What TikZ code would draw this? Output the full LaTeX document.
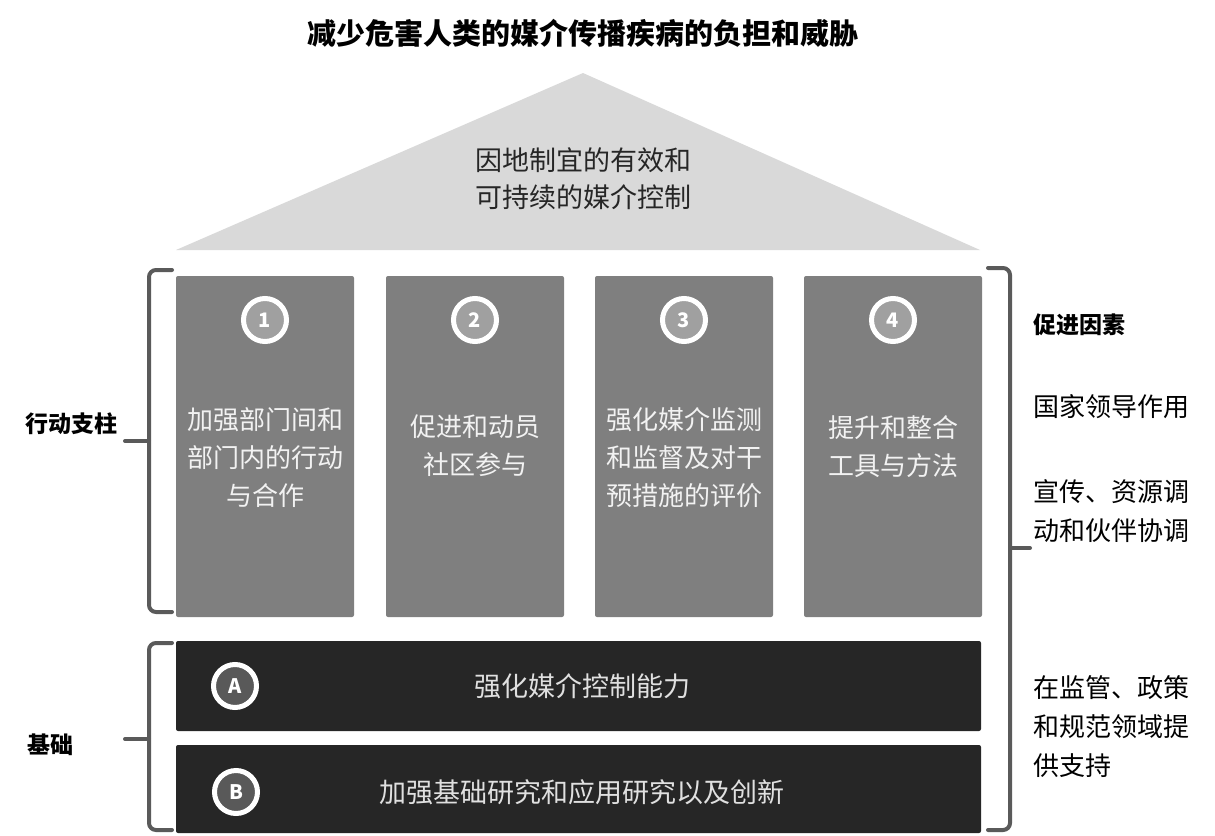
\documentclass[tikz,border=0pt]{standalone}
\usepackage{fontspec}
\setmainfont{Noto Sans CJK SC}
\newfontfamily\cjk{Noto Sans CJK SC}
\definecolor{pillar}{HTML}{7F7F7F}
\definecolor{roof}{HTML}{D9D9D9}
\definecolor{bar}{HTML}{262626}
\definecolor{brace}{HTML}{5A5A5A}
\definecolor{pcirc}{HTML}{A0A0A0}
\definecolor{bcirc}{HTML}{595959}
\definecolor{ptext}{HTML}{F2F2F2}
\definecolor{btext}{HTML}{E0E0E0}
\tikzset{
  pillarbox/.style={fill=pillar, rounded corners=2pt},
  barbox/.style={fill=bar, rounded corners=2pt},
  numcirc/.style={circle, draw=white, line width=5pt, minimum size=43pt, inner sep=0pt, text=white, font=\cjk\fontsize{20}{20}\selectfont\bfseries},
  bodytext/.style={align=center, font=\cjk\fontsize{26}{38}\selectfont},
  sidetext/.style={align=left, anchor=west, font=\cjk\fontsize{26}{39}\selectfont},
  boldlab/.style={anchor=west, font=\cjk\fontsize{23}{23}\selectfont\bfseries},
  bracepath/.style={draw=brace, line width=4pt, rounded corners=7pt, line cap=round},
}
\begin{document}
\begin{tikzpicture}[x=1pt,y=-1pt]
\useasboundingbox (0,0) rectangle (1215,835);
% title
\node[font=\cjk\fontsize{29}{29}\selectfont\bfseries] (title) at (583,33) {减少危害人类的媒介传播疾病的负担和威胁};
% roof
\fill[roof] (583,73) -- (980,250) -- (176,250) -- cycle;
\node[bodytext, text=black!85, font=\cjk\fontsize{27}{37}\selectfont] (roof) at (583,179) {因地制宜的有效和\\可持续的媒介控制};
% pillars
\foreach \i/\x in {1/176,2/386,3/595,4/804}{
  \fill[pillarbox] (\x,276) rectangle ++(178,341);
  \node[numcirc, fill=pcirc] (c\i) at (\x+89,320) {\i};
}
\node[bodytext, text=ptext] (p1) at (265,458) {加强部门间和\\部门内的行动\\与合作};
\node[bodytext, text=ptext] (p2) at (475,446) {促进和动员\\社区参与};
\node[bodytext, text=ptext] (p3) at (684,458) {强化媒介监测\\和监督及对干\\预措施的评价};
\node[bodytext, text=ptext] (p4) at (893,447) {提升和整合\\工具与方法};
% foundation bars
\fill[barbox] (176,641) rectangle (981,731);
\fill[barbox] (176,745) rectangle (981,833);
\node[numcirc, fill=bcirc] (ca) at (235,686) {A};
\node[numcirc, fill=bcirc] (cb) at (236,792) {B};
\node[bodytext, text=btext, font=\cjk\fontsize{27}{27}\selectfont] (fa) at (582,686) {强化媒介控制能力};
\node[bodytext, text=btext, font=\cjk\fontsize{27}{27}\selectfont] (fb) at (582,792) {加强基础研究和应用研究以及创新};
% braces
\coordinate (l1t) at (172,270);
\coordinate (l1b) at (172,612);
\coordinate (l1m) at (125,441);
\draw[bracepath] (l1t) -- (149,270) -- (149,612) -- (l1b);
\draw[bracepath, rounded corners=0pt] (149,441) -- (l1m);
\coordinate (l2t) at (172,643);
\coordinate (l2b) at (172,830);
\coordinate (l2m) at (125,739);
\draw[bracepath] (l2t) -- (149,643) -- (149,830) -- (l2b);
\draw[bracepath, rounded corners=0pt] (149,739) -- (l2m);
\coordinate (rt) at (988,268);
\coordinate (rb) at (988,830);
\coordinate (rm) at (1030,548);
\draw[bracepath] (rt) -- (1010,268) -- (1010,830) -- (rb);
\draw[bracepath, rounded corners=0pt] (1010,548) -- (rm);
% side labels
\node[boldlab] (lab1) at (22,424) {行动支柱};
\node[boldlab] (lab2) at (24,745) {基础};
\node[boldlab] (lab3) at (1030,325) {促进因素};
\node[sidetext] (s1) at (1030,407) {国家领导作用};
\node[sidetext] (s2) at (1030,511) {宣传、资源调\\动和伙伴协调};
\node[sidetext] (s3) at (1030,727) {在监管、政策\\和规范领域提\\供支持};
\end{tikzpicture}
\end{document}
